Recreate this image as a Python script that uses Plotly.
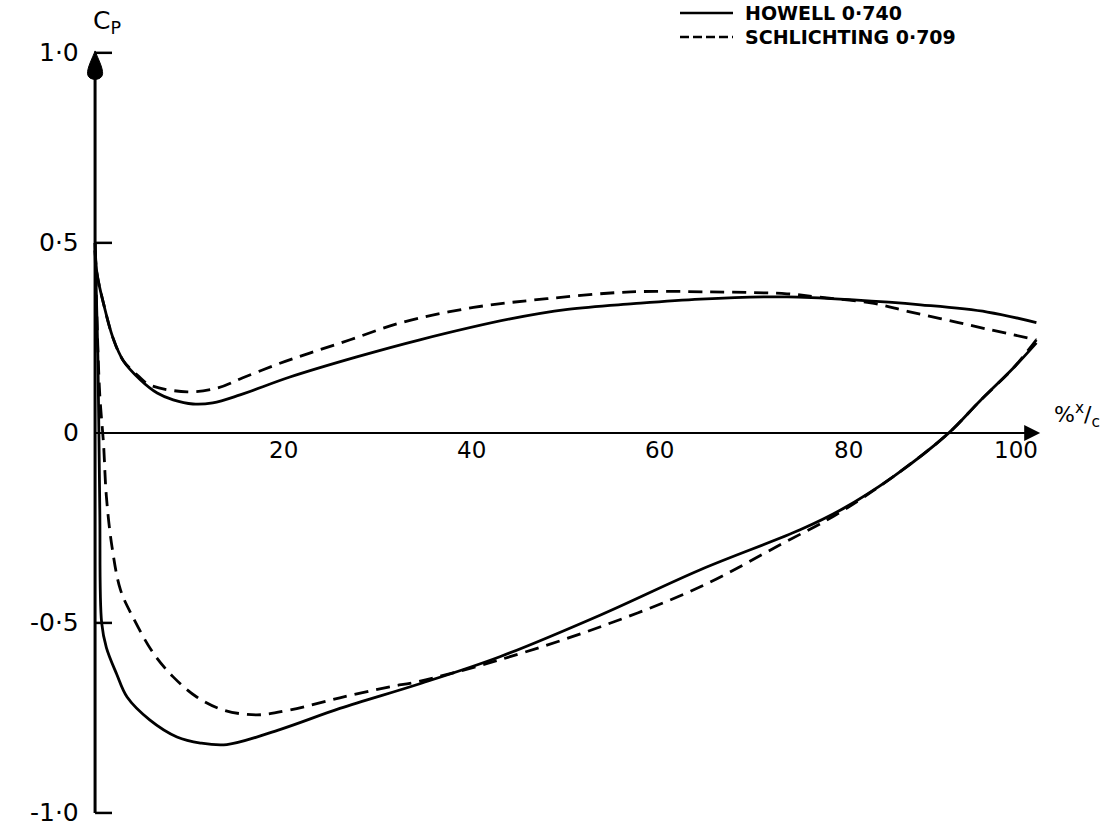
import plotly.graph_objects as go

# ---- data (x in % chord, Cp) ----
howell_upper_x = [0, 0.2, 0.9, 1.9, 3.0, 4.8, 6.6, 8.3, 10.4, 12.5, 15.4, 20.7, 27.8, 34.5, 44.1, 50.2, 57.2, 64.3, 73.5, 80.6, 87.7, 94.8, 100]
howell_upper_y = [0.50, 0.42, 0.34, 0.25, 0.19, 0.14, 0.105, 0.087, 0.076, 0.079, 0.10, 0.147, 0.20, 0.245, 0.30, 0.325, 0.34, 0.352, 0.358, 0.35, 0.337, 0.318, 0.29]

howell_lower_x = [0, 0.3, 0.5, 0.7, 1.2, 2.3, 3.4, 5.8, 8.7, 11.2, 14.0, 19.7, 26.0, 34.5, 43.0, 53.7, 64.3, 74.9, 79.2, 84.8, 90.7, 94.0, 97.6, 100]
howell_lower_y = [0.50, 0.2, -0.2, -0.50, -0.565, -0.635, -0.695, -0.755, -0.80, -0.816, -0.82, -0.78, -0.725, -0.66, -0.589, -0.479, -0.36, -0.255, -0.203, -0.115, 0.0, 0.084, 0.172, 0.237]

schl_upper_x = [0, 0.2, 0.9, 1.9, 3.0, 4.8, 5.8, 9.8, 13.0, 15.7, 19.3, 22.8, 27.1, 32.5, 40.2, 48.0, 56.9, 65.4, 70.0, 73.5, 77.0, 82.4, 86.3, 90.5, 94.8, 100]
schl_upper_y = [0.48, 0.42, 0.34, 0.25, 0.19, 0.145, 0.126, 0.108, 0.118, 0.145, 0.18, 0.21, 0.245, 0.29, 0.33, 0.353, 0.371, 0.371, 0.369, 0.366, 0.357, 0.342, 0.32, 0.297, 0.273, 0.245]

schl_lower_x = [0, 0.2, 0.5, 0.9, 1.2, 1.8, 2.7, 4.0, 6.2, 8.3, 10.8, 13.6, 17.2, 20.7, 26.0, 31.3, 34.2, 43.0, 53.7, 64.3, 73.1, 78.4, 84.8, 90.7, 94.0, 97.6, 100]
schl_lower_y = [0.48, 0.3, 0.1, -0.03, -0.167, -0.30, -0.413, -0.484, -0.58, -0.642, -0.695, -0.729, -0.742, -0.729, -0.697, -0.668, -0.655, -0.597, -0.51, -0.405, -0.29, -0.22, -0.115, 0.0, 0.084, 0.172, 0.245]

x_tick_vals = [20, 40, 60, 80, 100]
x_tick_text = ["20", "40", "60", "80", "100"]
y_tick_vals = [1.0, 0.5, 0, -0.5, -1.0]
y_tick_text = ["1·0", "0·5", "0", "-0·5", "-1·0"]

series_names = ["HOWELL 0·740", "SCHLICHTING 0·709"]

FONT = "DejaVu Sans"
INK = "black"
W, H = 1107, 827

fig = go.Figure()

line_solid = dict(color=INK, width=2.8, shape="spline", smoothing=1.0)
line_dash = dict(color=INK, width=2.8, shape="spline", smoothing=1.0, dash="14px,8px")

fig.add_trace(go.Scatter(x=howell_upper_x, y=howell_upper_y, mode="lines", line=line_solid,
                         name=series_names[0], showlegend=False))
fig.add_trace(go.Scatter(x=howell_lower_x, y=howell_lower_y, mode="lines", line=line_solid,
                         name=series_names[0], showlegend=False))
fig.add_trace(go.Scatter(x=schl_upper_x, y=schl_upper_y, mode="lines", line=line_dash,
                         name=series_names[1], showlegend=False))
fig.add_trace(go.Scatter(x=schl_lower_x, y=schl_lower_y, mode="lines", line=line_dash,
                         name=series_names[1], showlegend=False))

shapes = []
# y axis line
shapes.append(dict(type="line", xref="x", yref="y", x0=0, x1=0, y0=-1.0, y1=0.99,
                   line=dict(color=INK, width=3)))
# teardrop arrowhead on the y axis
shapes.append(dict(type="path", xref="x", yref="y",
                   path="M 0,1.005 C 0.3,0.985 0.85,0.96 0.8,0.945 C 0.75,0.925 -0.75,0.925 -0.8,0.945 C -0.85,0.96 -0.3,0.985 0,1.005 Z",
                   fillcolor=INK, line=dict(color=INK, width=1)))
# x axis line
shapes.append(dict(type="line", xref="x", yref="y", x0=0, x1=99, y0=0, y1=0,
                   line=dict(color=INK, width=2)))
# y ticks (short marks to the right of the axis)
for v in y_tick_vals:
    if v != 0:
        shapes.append(dict(type="line", xref="x", yref="y", x0=0, x1=1.8, y0=v, y1=v,
                           line=dict(color=INK, width=2.5)))

# hand-drawn style legend (top right)
legend_rows_py = [13, 37]
legend_dash = ["solid", "9px,4px"]
for py, dsh in zip(legend_rows_py, legend_dash):
    shapes.append(dict(type="line", xref="paper", yref="paper", x0=680 / W, x1=733 / W,
                       y0=1 - py / H, y1=1 - py / H, line=dict(color=INK, width=2.5, dash=dsh)))

annotations = []
for py, name in zip(legend_rows_py, series_names):
    annotations.append(dict(x=743 / W, y=1 - py / H, xref="paper", yref="paper", text=f"<b>{name}</b>",
                            showarrow=False, xanchor="left", yanchor="middle",
                            font=dict(family=FONT, size=19, color=INK)))
# x axis arrowhead
annotations.append(dict(x=100.4, y=0, ax=95, ay=0, xref="x", yref="y", axref="x", ayref="y",
                        showarrow=True, arrowhead=2, arrowsize=1.6, arrowwidth=2, arrowcolor=INK, text=""))
# tick labels
for v, t in zip(y_tick_vals, y_tick_text):
    annotations.append(dict(x=0, y=v, xref="x", yref="y", text=t, showarrow=False,
                            xanchor="right", yanchor="middle", xshift=-14,
                            font=dict(family=FONT, size=25, color=INK)))
for v, t in zip(x_tick_vals, x_tick_text):
    annotations.append(dict(x=v, y=0, xref="x", yref="y", text=t, showarrow=False,
                            xanchor="center", yanchor="middle", yshift=-17,
                            xshift=(-20 if v == 100 else 0),
                            font=dict(family=FONT, size=23, color=INK)))
# axis titles
annotations.append(dict(x=1.3, y=1.08, xref="x", yref="y", text="C<sub>P</sub>", showarrow=False,
                        xanchor="center", yanchor="middle", font=dict(family=FONT, size=25, color=INK)))
annotations.append(dict(x=104.3, y=0.047, xref="x", yref="y", text="%<sup>x</sup>/<sub>c</sub>",
                        showarrow=False, xanchor="center", yanchor="middle",
                        font=dict(family=FONT, size=22, color=INK)))

fig.update_layout(
    width=W, height=H,
    margin=dict(l=0, r=0, t=0, b=0),
    paper_bgcolor="white", plot_bgcolor="white",
    xaxis=dict(range=[-10.1, 107.5], visible=False, fixedrange=True),
    yaxis=dict(range=[-1.037, 1.139], visible=False, fixedrange=True),
    shapes=shapes, annotations=annotations,
    showlegend=False,
)

# remove the default 8px page margin so the figure fills the window exactly
fig.write_html("out.html", config={"displayModeBar": False},
               post_script="document.body.style.margin='0px';")
